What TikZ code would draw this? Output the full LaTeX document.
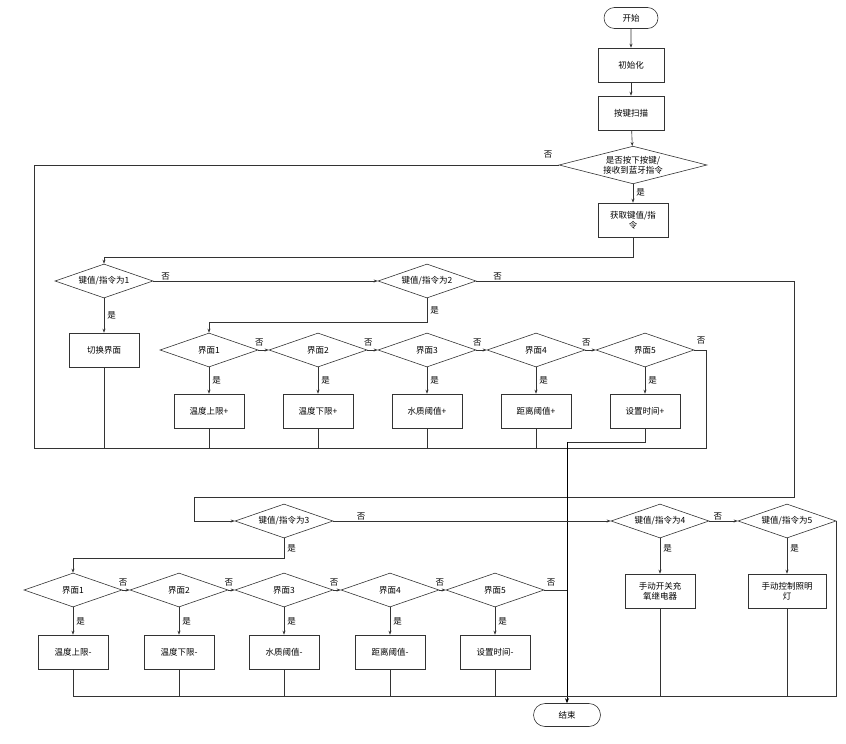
\documentclass[tikz,border=0pt]{standalone}
\usepackage{fontspec}
\setmainfont{Noto Sans CJK SC}
\usetikzlibrary{positioning,calc,shapes.geometric,shapes.misc,arrows.meta}
\tikzset{base/.style={draw=black!80,semithick,font=\fontsize{8.5}{10}\selectfont,align=center,inner sep=1pt}}
\tikzset{proc/.style={base,rectangle,minimum width=70pt,minimum height=34pt,text width=64pt}}
\tikzset{term/.style={base,rounded rectangle,minimum width=56pt,minimum height=21pt}}
\tikzset{dec/.style={base,diamond,aspect=3,inner sep=0pt,minimum width=98pt,minimum height=34pt}}
\tikzset{arr/.style={draw=black!80,semithick,-{Stealth[length=4pt,width=3pt]}}}
\tikzset{ln/.style={draw=black!80,semithick}}
\tikzset{lab/.style={font=\fontsize{8.5}{10}\selectfont,inner sep=1pt}}
\begin{document}
\begin{tikzpicture}[x=1pt,y=-1pt]
\useasboundingbox (0,0) rectangle (846,744);
% top column
\node[term] (start) at (631,18) {开始};
\node[proc,minimum width=64pt] (init) at (631,65) {初始化};
\node[proc,minimum width=64pt] (scan) at (631,113) {按键扫描};
\node[dec,minimum width=148pt,minimum height=36pt] (press) at (633,165) {是否按下按键/\\接收到蓝牙指令};
\node[proc] (get) at (633,220) {获取键值/指\\令};
% level 1 decisions
\node[dec] (d1) at (104,281) {键值/指令为1};
\node[dec] (d2) at (427,281) {键值/指令为2};
\node[proc] (swi) at (104,350) {切换界面};
\foreach \i/\x/\t in {1/209/温度上限+,2/318/温度下限+,3/427/水质阈值+,4/536/距离阈值+,5/645/设置时间+}{
  \node[dec] (j\i) at (\x,350) {界面\i};
  \node[proc] (b\i) at (\x,411) {\t};
}
% level 2 decisions
\node[dec] (d3) at (284,521) {键值/指令为3};
\node[dec] (d4) at (660,521) {键值/指令为4};
\node[dec] (d5) at (787,521) {键值/指令为5};
\foreach \i/\x/\t in {1/73/温度上限-,2/179/温度下限-,3/284/水质阈值-,4/390/距离阈值-,5/495/设置时间-}{
  \node[dec] (k\i) at (\x,590) {界面\i};
  \node[proc] (c\i) at (\x,652) {\t};
}
\node[proc] (m4) at (660,591) {手动开关充\\氧继电器};
\node[proc,minimum width=78pt,text width=74pt] (m5) at (787,591) {手动控制照明\\灯};
\node[term,minimum width=69pt,minimum height=23pt] (stop) at (567,715) {结束};

% connectors
\draw[arr] (start) -- (init);
\draw[arr] (init) -- (scan);
\draw[arr] (scan) -- (press);
\draw[arr] (press) -- node[lab,right=2pt,pos=0.45]{是} (get);
\draw[ln] (press.west) -- node[lab,above,pos=0.02,yshift=6pt]{否} (34,165) -- (34,448) -- (706,448) |- (j5.east);
\node[lab] at (701,341) {否};
\draw[arr] (get.south) -- ++(0,20) -| (d1.north);
\draw[arr] (d1.east) -- node[lab,pos=0.03,above right]{否} (d2.west);
\draw[arr] (d1) -- node[lab,right=2pt]{是} (swi);
\draw[ln] (swi.south) -- (104,448);
\draw[arr] (d2.east) -- node[lab,pos=0.05,above right]{否} (794,281) -- (794,497) -| (194,521) -- (d3.west);
\draw[arr] (d2.south) -- node[lab,right=2pt]{是} ++(0,24) -| (j1.north);
\foreach \i/\n in {1/2,2/3,3/4,4/5}{
  \draw[arr] (j\i.east) -- node[lab,pos=0.1,above=3pt]{否} (j\n.west);
}
\foreach \i in {1,...,5}{
  \draw[arr] (j\i) -- node[lab,right=2pt]{是} (b\i);
}
\foreach \i in {1,...,4}{
  \draw[ln] (b\i.south) -- (b\i.south |- 0,448);
}
\draw[ln] (b5.south) |- (567,442);
\draw[-{Stealth[length=5pt,width=4pt]},thick] (567,442) -- (stop.north);
% lower part
\draw[arr] (d3.east) -- node[lab,pos=0.08,above right]{否} (d4.west);
\draw[arr] (d4.east) -- node[lab,pos=0.3,above]{否} (d5.west);
\draw[arr] (d3.south) -- node[lab,right=2pt]{是} ++(0,20) -| (k1.north);
\foreach \i/\n in {1/2,2/3,3/4,4/5}{
  \draw[arr] (k\i.east) -- node[lab,pos=0.1,above=3pt]{否} (k\n.west);
}
\draw[ln] (k5.east) -- node[lab,pos=0.3,above=3pt]{否} (567,590);
\foreach \i in {1,...,5}{
  \draw[arr] (k\i) -- node[lab,right=2pt]{是} (c\i);
  \draw[ln] (c\i.south) -- (c\i.south |- 0,696);
}
\draw[arr] (d4) -- node[lab,right=2pt,pos=0.3]{是} (m4);
\draw[arr] (d5) -- node[lab,right=2pt,pos=0.3]{是} (m5);
\draw[ln] (m4.south) -- (m4.south |- 0,696);
\draw[ln] (m5.south) -- (m5.south |- 0,696);
\draw[ln] (c1.south |- 0,696) -- (d5.east |- 0,696) -- (d5.east);
\end{tikzpicture}
\end{document}
